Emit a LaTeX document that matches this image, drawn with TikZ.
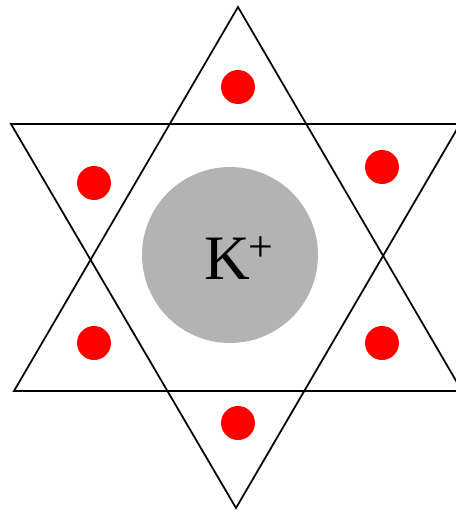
\documentclass[tikz,border=0pt]{standalone}
\usepackage{fontspec}
\newfontfamily\ionfont{Liberation Serif}
\usepackage{tikz}
\definecolor{ionred}{RGB}{255,0,0}
\definecolor{iongray}{RGB}{179,179,179}
\tikzset{
  oxygen/.style={circle,fill=ionred,minimum size=0.68cm,inner sep=0pt},
  cation/.style={circle,fill=iongray,minimum size=3.52cm,inner sep=0pt},
  ring/.style={black,line width=1pt,line join=miter}
}

\begin{document}
\begin{tikzpicture}[x=0.02cm,y=-0.02cm]
\useasboundingbox (0,0) rectangle (456,511);
\draw[ring] (238,7)--(14,391)--(462,391)--cycle;
\draw[ring] (11,124)--(460,124)--(236,508)--cycle;
\node[cation] (k) at (230,255) {};
\node[font=\ionfont\fontsize{36}{36}\selectfont,inner sep=0pt,anchor=base west] (klabel) at (204,279) {K\kern-1pt\raisebox{10pt}{\fontsize{25}{25}\selectfont +}};
\foreach \x/\y/\n in {238/87/a,382/167/b,382/343/c,238/423/d,94/343/e,94/183/f} {
  \node[oxygen] (o\n) at (\x,\y) {};
}
\end{tikzpicture}
\end{document}
